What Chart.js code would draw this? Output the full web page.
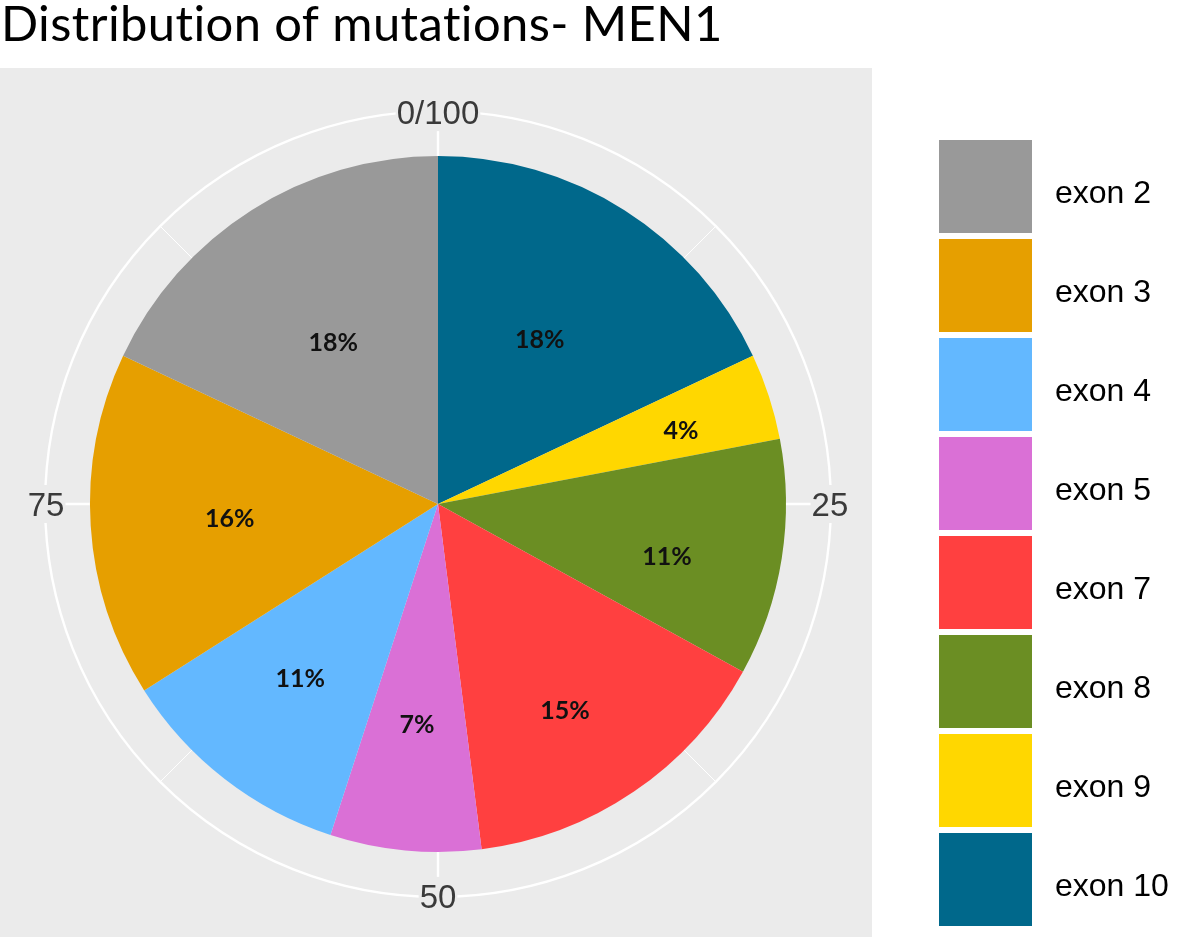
<!DOCTYPE html>
<html>
<head>
<meta charset="utf-8">
<title>Distribution of mutations- MEN1</title>
<script src="https://cdn.jsdelivr.net/npm/chart.js@4"></script>
<style>
  html, body { margin: 0; padding: 0; background: #ffffff; }
  #chart { display: block; }
</style>
</head>
<body>
<canvas id="chart" width="1181" height="944"></canvas>
<script>
// values, in legend order
var TITLE = "Distribution of mutations- MEN1";
var CATEGORIES = ["exon 2", "exon 3", "exon 4", "exon 5", "exon 7", "exon 8", "exon 9", "exon 10"];
var PERCENTS = [18, 16, 11, 7, 15, 11, 4, 18];
var COLORS = ["#999999", "#E69F00", "#63B8FF", "#DA70D6", "#FF4040", "#6B8E23", "#FFD700", "#00688B"];
var TICK_VALUES = [0, 25, 50, 75];
var TICK_LABELS = ["0/100", "25", "50", "75"];

(function () {
  // ggplot stacks the pie from the last level, so the slices go clockwise in reverse
  var pieLabels = CATEGORIES.slice().reverse();
  var pieValues = PERCENTS.slice().reverse();
  var pieColors = COLORS.slice().reverse();
  // where each percent label sits inside its slice (pie order):
  // share of the radius, and share of the way from the slice start to its end
  var labelRadius = [0.555, 0.729, 0.675, 0.698, 0.638, 0.64, 0.60, 0.552];
  var labelAlong = [0.49, 0.59, 0.60, 0.55, 0.5, 0.51, 0.49, 0.49];

  var PANEL = "#EBEBEB";

  function angleOf(v) {
    return -Math.PI / 2 + (v / 100) * Math.PI * 2;
  }

  var ggPanel = {
    id: "ggPanel",
    beforeDraw: function (chart) {
      var ctx = chart.ctx;
      ctx.save();
      ctx.fillStyle = PANEL;
      ctx.fillRect(0, 68, 872, 869);
      ctx.restore();
    },
    beforeDatasetsDraw: function (chart) {
      var ctx = chart.ctx;
      var arc = chart.getDatasetMeta(0).data[0];
      var cx = arc.x, cy = arc.y, r = arc.outerRadius;
      var R = r * 1.129;

      ctx.save();
      ctx.strokeStyle = "#ffffff";

      // minor theta lines
      ctx.lineWidth = 1;
      TICK_VALUES.forEach(function (v) {
        var a = angleOf(v + 12.5);
        ctx.beginPath();
        ctx.moveTo(cx + Math.cos(a) * r, cy + Math.sin(a) * r);
        ctx.lineTo(cx + Math.cos(a) * R, cy + Math.sin(a) * R);
        ctx.stroke();
      });

      // major theta lines
      ctx.lineWidth = 2.4;
      TICK_VALUES.forEach(function (v) {
        var a = angleOf(v);
        ctx.beginPath();
        ctx.moveTo(cx, cy);
        ctx.lineTo(cx + Math.cos(a) * R, cy + Math.sin(a) * R);
        ctx.stroke();
      });

      // outer circle
      ctx.beginPath();
      ctx.arc(cx, cy, R, 0, Math.PI * 2);
      ctx.stroke();

      // theta tick labels, sitting on the circle
      ctx.font = '33px "Liberation Sans", Arial, sans-serif';
      ctx.textAlign = "center";
      ctx.textBaseline = "alphabetic";
      TICK_VALUES.forEach(function (v, i) {
        var a = angleOf(v);
        var tx = cx + Math.cos(a) * (R - 1);
        var ty = cy + Math.sin(a) * (R - 1);
        var w = ctx.measureText(TICK_LABELS[i]).width;
        ctx.fillStyle = PANEL;
        ctx.fillRect(tx - w / 2 - 1, ty - 19, w + 2, 38);
        ctx.fillStyle = "#3a3a3a";
        ctx.fillText(TICK_LABELS[i], tx, ty + 12);
      });
      ctx.restore();
    },
    afterDatasetsDraw: function (chart) {
      var ctx = chart.ctx;
      var meta = chart.getDatasetMeta(0);
      ctx.save();
      ctx.font = 'bold 25px Lato, "Open Sans", sans-serif';
      ctx.fillStyle = "#111111";
      ctx.textAlign = "center";
      ctx.textBaseline = "middle";
      meta.data.forEach(function (arc, i) {
        var a = arc.startAngle + (arc.endAngle - arc.startAngle) * labelAlong[i];
        var rr = arc.outerRadius * labelRadius[i];
        ctx.fillText(pieValues[i] + "%", arc.x + Math.cos(a) * rr, arc.y + Math.sin(a) * rr);
      });
      ctx.restore();
    },
    afterDraw: function (chart) {
      var ctx = chart.ctx;
      ctx.save();

      // title, sized to the width it has in the picture (a little spacing keeps "ti" unligatured)
      ctx.letterSpacing = "0.4px";
      ctx.font = "100px Lato, sans-serif";
      var size = (100 * 716) / ctx.measureText(TITLE).width;
      ctx.font = size.toFixed(1) + "px Lato, sans-serif";
      ctx.fillStyle = "#000000";
      ctx.textAlign = "left";
      ctx.textBaseline = "alphabetic";
      ctx.fillText(TITLE, 1, 41);
      ctx.letterSpacing = "0px";

      // legend keys
      ctx.font = '32px "Liberation Sans", Arial, sans-serif';
      CATEGORIES.forEach(function (name, i) {
        var y = 140 + i * 99;
        ctx.fillStyle = COLORS[i];
        ctx.fillRect(939, y, 93, 93);
        ctx.fillStyle = "#000000";
        ctx.fillText(name, 1055, y + 63);
      });
      ctx.restore();
    },
  };

  new Chart(document.getElementById("chart"), {
    type: "pie",
    data: {
      labels: pieLabels,
      datasets: [
        {
          data: pieValues,
          backgroundColor: pieColors,
          borderWidth: 0,
          hoverOffset: 0,
          radius: 348,
        },
      ],
    },
    options: {
      responsive: false,
      animation: false,
      events: [],
      layout: { padding: { left: 58, right: 363, top: 124, bottom: 60 } },
      plugins: {
        legend: { display: false },
        tooltip: { enabled: false },
      },
    },
    plugins: [ggPanel],
  });
})();
</script>
</body>
</html>
